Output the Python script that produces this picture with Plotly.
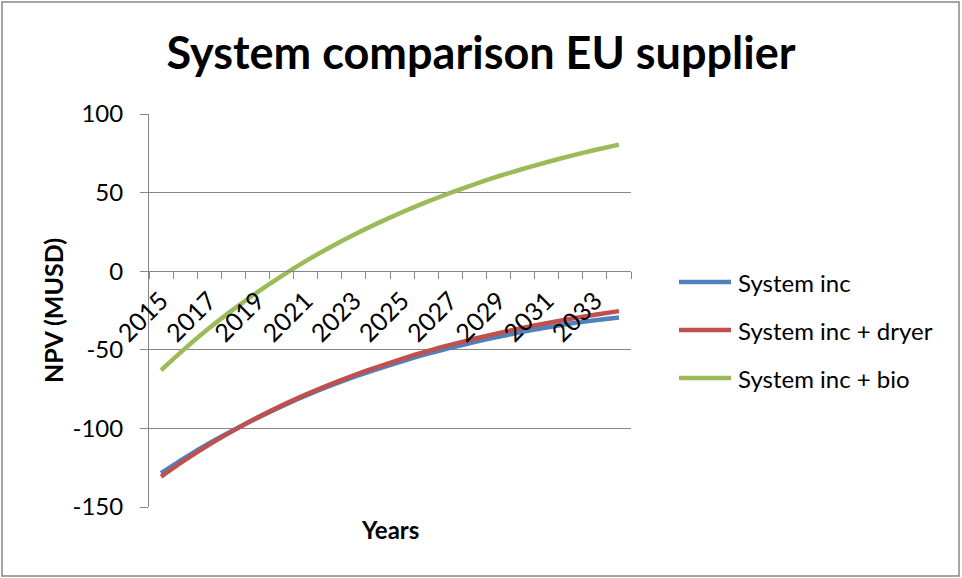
import plotly.graph_objects as go

# Project years (one category per year)
years = list(range(2015, 2035))

# Cumulative net present value, MUSD
system_inc = [-128.5, -118.6, -109.5, -101.2, -93.3, -86.0, -79.2, -73.0, -67.3, -62.1,
              -57.3, -52.8, -48.8, -45.1, -41.7, -38.6, -35.8, -33.3, -31.2, -29.4]
system_inc_dryer = [-130.7, -120.1, -110.3, -101.4, -93.1, -85.5, -78.5, -72.1, -66.2, -60.8,
                    -55.8, -51.1, -46.9, -43.0, -39.4, -36.1, -33.1, -30.3, -27.7, -25.4]
system_inc_bio = [-63.0, -49.1, -36.2, -24.3, -13.3, -3.1, 6.4, 15.1, 23.2, 30.6,
                  37.5, 43.9, 49.8, 55.3, 60.4, 65.0, 69.3, 73.4, 77.1, 80.5]

series_names = ["System inc", "System inc + dryer", "System inc + bio"]
series_values = [system_inc, system_inc_dryer, system_inc_bio]
series_colors = ["#4F81BD", "#C0504D", "#9BBB59"]

label_years = years[::2]
y_ticks = [-150, -100, -50, 0, 50, 100]
y_tick_text = ["-150", "-100", "-50", "0", "50", "100"]

FONT = "Lato"
GRID = "#868686"

# Figure geometry (pixels)
W, H = 962, 578
L, R, T, B = 149, 331, 114, 71
PW, PH = W - L - R, H - T - B


def px_x(x):
    return (x - L) / PW


def px_y(y):
    return (H - B - y) / PH


fig = go.Figure()
for name, vals, col in zip(series_names, series_values, series_colors):
    fig.add_trace(go.Scatter(
        x=years, y=vals, name=name, mode="lines",
        line=dict(color=col, width=4.5, shape="spline", smoothing=0.6),
        showlegend=False,
    ))

# Legend drawn as line swatches plus labels to the right of the plot
legend_rows = [282, 330, 378]
shapes = []
annotations = []
for name, col, yrow in zip(series_names, series_colors, legend_rows):
    shapes.append(dict(
        type="line", xref="paper", yref="paper",
        x0=px_x(679), x1=px_x(731), y0=px_y(yrow), y1=px_y(yrow),
        line=dict(color=col, width=4.5),
    ))
    annotations.append(dict(
        text=name, showarrow=False,
        xref="paper", x=px_x(736), xanchor="left",
        yref="paper", y=px_y(yrow), yanchor="middle",
        font=dict(family=FONT, size=24, color="black"),
    ))

annotations.append(dict(
    text="Years", showarrow=False,
    xref="paper", x=0.5, xanchor="center",
    yref="paper", y=px_y(529), yanchor="middle",
    font=dict(family=FONT, size=24, color="black", weight="bold"),
))

# Y axis title
annotations.append(dict(
    text="NPV (MUSD)", showarrow=False, textangle=-90,
    xref="paper", x=px_x(53), xanchor="center",
    yref="paper", y=px_y(311), yanchor="middle",
    font=dict(family=FONT, size=25, color="black", weight="bold"),
))

# Chart border
shapes.append(dict(
    type="rect", xref="paper", yref="paper",
    x0=px_x(2), x1=px_x(959), y0=px_y(576), y1=px_y(2),
    line=dict(color=GRID, width=1.5), fillcolor="rgba(0,0,0,0)",
    layer="below",
))

y_min, y_max = -150, 100
fig.update_layout(
    width=W, height=H,
    margin=dict(l=L, r=R, t=T, b=B),
    paper_bgcolor="white", plot_bgcolor="white",
    font=dict(family=FONT, size=24, color="black"),
    showlegend=False,
    title=dict(
        text="System comparison EU supplier",
        font=dict(family=FONT, size=45, color="black", weight="bold"),
        x=0.5, xref="container", xanchor="center",
        y=1 - 53 / H, yref="container", yanchor="middle",
    ),
    xaxis=dict(
        type="linear",
        range=[years[0] - 0.5, years[-1] + 0.5],
        anchor="free",
        position=(0 - y_min) / (y_max - y_min),
        showline=True, linecolor=GRID, linewidth=1,
        showgrid=False, zeroline=False,
        tickmode="array", tickvals=label_years, ticktext=[str(y) for y in label_years],
        ticks="", tickangle=-45,
        ticklabelstandoff=4,
        tickfont=dict(family=FONT, size=25, color="black"),
        minor=dict(
            tickmode="array",
            tickvals=[y - 0.5 for y in years] + [years[-1] + 0.5],
            ticks="outside", ticklen=7, tickcolor=GRID, tickwidth=1,
            showgrid=False,
        ),
    ),
    yaxis=dict(
        range=[y_min, y_max],
        tickmode="array", tickvals=y_ticks, ticktext=y_tick_text,
        showline=True, linecolor=GRID, linewidth=1,
        showgrid=True, gridcolor=GRID, gridwidth=1,
        zeroline=False,
        ticks="outside", ticklen=8, tickcolor=GRID,
        ticklabelstandoff=12,
        tickfont=dict(family=FONT, size=24, color="black"),
    ),
    annotations=annotations,
    shapes=shapes,
)

fig.write_html("out.html")
